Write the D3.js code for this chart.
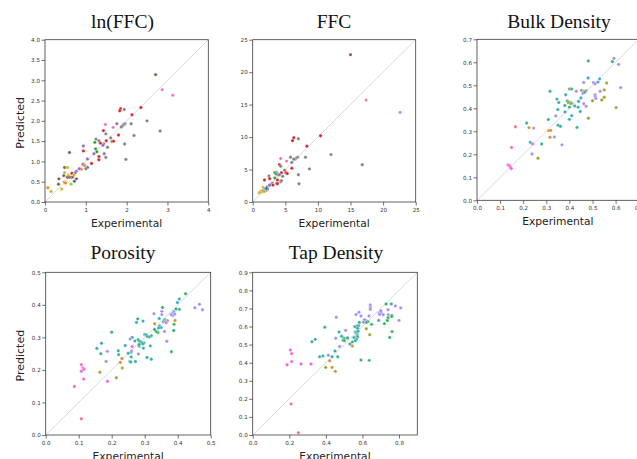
<!DOCTYPE html>
<html><head><meta charset="utf-8">
<script src="https://cdn.jsdelivr.net/npm/d3@7"></script>
<style>
body{margin:0;background:#fff;}
svg{display:block;}
.tick text{font-family:"DejaVu Sans",sans-serif;font-size:5.6px;fill:#333;}
.tick line{stroke:#333;stroke-width:0.7;}
.domain{display:none;}
</style></head><body>
<svg id="c" width="637" height="459"></svg>
<script>
// ---- palettes ----
const tab10 = d3.schemeCategory10;
const husl8 = ['#f77189','#ce9032','#97a431','#32b166','#36ada4','#39a7d0','#a48cf4','#f561dd'];

// ---- data: [experimental, predicted, group] ----
const lnffcPoints = [
[2.71,3.14,5],[2.87,2.77,6],[3.13,2.63,6],[1.85,2.30,3],[1.83,2.25,3],[1.94,2.28,7],[2.35,2.33,3],[2.13,2.15,3],
[2.50,2.00,7],[2.11,1.93,7],[1.96,1.93,7],[1.93,1.91,7],[1.90,1.88,7],[1.87,1.85,7],[1.76,1.93,7],[1.48,1.91,6],
[1.67,1.84,6],[1.43,1.76,3],[1.49,1.68,7],[2.82,1.75,7],[2.18,1.64,7],[1.80,1.65,3],[1.61,1.58,7],[1.25,1.55,7],
[1.32,1.51,7],[1.64,1.49,7],[1.68,1.50,3],[1.22,1.47,2],[1.50,1.51,3],[1.36,1.45,3],[1.44,1.43,4],[1.42,1.40,4],
[1.53,1.35,7],[1.95,1.43,7],[0.94,1.38,4],[1.24,1.31,2],[0.94,1.26,3],[1.27,1.24,2],[0.60,1.22,5],[1.20,1.19,4],
[1.45,1.19,7],[1.49,1.10,7],[1.32,1.12,3],[1.32,1.04,3],[1.98,1.05,7],[1.14,0.95,3],[1.04,1.06,4],[1.04,0.85,0],
[1.00,0.82,7],[0.93,0.93,4],[0.89,0.81,1],[0.97,0.90,1],[0.84,0.82,4],[0.77,0.76,4],[0.74,0.72,4],[0.72,0.51,0],
[0.48,0.85,5],[0.55,0.85,8],[0.48,0.72,8],[0.57,0.66,8],[0.46,0.65,5],[0.55,0.61,5],[0.60,0.61,5],[0.65,0.61,5],
[0.68,0.62,5],[0.34,0.57,5],[0.47,0.49,1],[0.50,0.47,1],[0.33,0.44,5],[0.64,0.44,8],[0.66,0.71,3],[0.71,0.67,8],
[0.77,0.57,5],[0.07,0.35,1],[0.15,0.26,8],[0.41,0.32,8]
];
const ffcPoints = [
[15.0,22.7,5],[17.4,15.7,6],[22.6,13.8,6],[10.4,10.2,3],[6.3,9.9,3],[6.1,9.45,3],[7.0,9.75,7],[8.3,8.6,3],
[12.0,7.3,7],[8.1,6.9,7],[6.9,6.9,7],[6.7,6.8,7],[6.5,6.6,7],[6.3,6.6,7],[5.8,6.9,7],[4.3,6.7,6],[5.2,6.3,6],
[6.0,6.1,7],[16.8,5.75,7],[4.1,5.75,3],[4.3,5.5,7],[8.7,5.1,7],[6.0,5.2,3],[4.9,4.9,7],[3.5,4.6,7],[3.7,4.5,7],
[4.4,4.5,3],[5.1,4.5,3],[5.3,4.4,3],[3.4,4.5,2],[3.6,4.3,2],[3.9,4.2,4],[4.1,4.2,4],[4.6,3.95,7],[7.0,4.2,7],
[2.5,4.0,4],[2.6,3.6,3],[3.4,3.7,2],[3.8,3.4,3],[4.3,3.1,7],[4.4,3.3,7],[7.1,2.8,7],[3.7,2.9,3],[3.8,2.8,3],
[1.8,3.4,3],[3.0,2.9,4],[2.8,2.7,4],[2.5,2.5,4],[2.2,2.3,4],[3.1,2.6,3],[2.6,2.6,4],[1.6,2.26,8],[1.7,1.9,8],
[1.85,2.0,5],[1.2,1.65,1],[1.0,1.4,1],[1.3,1.5,8],[1.5,1.65,5],[2.0,1.75,5],[1.9,1.9,4],[2.0,1.85,0],[2.3,2.0,7],
[1.4,1.6,8],[1.6,1.7,5],[1.75,1.6,8],[2.1,2.1,0],[1.1,1.5,8]
];
const bulkPoints = [
[0.593,0.617,6],[0.586,0.603,3],[0.613,0.591,6],[0.482,0.606,3],[0.622,0.49,6],[0.531,0.528,5],[0.524,0.514,5],
[0.481,0.532,5],[0.504,0.512,6],[0.511,0.507,6],[0.561,0.51,2],[0.462,0.512,6],[0.43,0.474,6],[0.40,0.484,2],
[0.41,0.484,4],[0.511,0.459,6],[0.512,0.451,6],[0.533,0.474,6],[0.514,0.443,6],[0.551,0.48,2],[0.452,0.478,2],
[0.472,0.477,2],[0.462,0.474,6],[0.458,0.465,6],[0.466,0.47,5],[0.316,0.474,5],[0.384,0.459,4],[0.346,0.44,4],
[0.354,0.425,4],[0.391,0.432,4],[0.403,0.426,4],[0.41,0.422,4],[0.406,0.421,2],[0.395,0.425,2],[0.38,0.412,4],
[0.40,0.405,4],[0.35,0.395,4],[0.438,0.405,4],[0.423,0.41,4],[0.50,0.433,2],[0.54,0.436,2],[0.551,0.448,2],
[0.472,0.409,6],[0.462,0.42,6],[0.602,0.403,2],[0.447,0.386,4],[0.381,0.384,4],[0.41,0.368,4],[0.341,0.367,6],
[0.309,0.351,4],[0.40,0.352,4],[0.482,0.357,2],[0.215,0.336,4],[0.351,0.326,4],[0.361,0.322,4],[0.433,0.317,4],
[0.166,0.32,0],[0.225,0.316,1],[0.245,0.314,6],[0.31,0.303,1],[0.319,0.304,1],[0.316,0.274,1],[0.335,0.275,6],
[0.231,0.252,4],[0.241,0.245,7],[0.28,0.245,4],[0.368,0.241,6],[0.15,0.23,7],[0.238,0.201,6],[0.264,0.183,2],
[0.134,0.154,7],[0.14,0.151,7],[0.144,0.145,7],[0.149,0.138,7],[0.45,0.445,5],[0.44,0.43,4]
];
const porosityPoints = [
[0.424,0.434,3],[0.405,0.418,5],[0.399,0.407,5],[0.466,0.402,6],[0.452,0.391,6],[0.475,0.385,6],[0.354,0.392,3],
[0.405,0.386,5],[0.395,0.387,3],[0.388,0.379,3],[0.385,0.375,6],[0.389,0.370,6],[0.385,0.367,6],[0.391,0.372,6],
[0.380,0.370,6],[0.328,0.373,6],[0.352,0.38,6],[0.352,0.37,6],[0.279,0.357,3],[0.275,0.346,4],[0.295,0.35,4],
[0.330,0.342,1],[0.369,0.351,1],[0.361,0.354,3],[0.357,0.348,3],[0.344,0.358,5],[0.362,0.349,6],[0.365,0.345,6],
[0.345,0.335,4],[0.350,0.330,5],[0.342,0.329,5],[0.340,0.315,3],[0.335,0.318,3],[0.330,0.324,3],[0.392,0.352,1],
[0.389,0.34,3],[0.388,0.321,3],[0.36,0.318,6],[0.20,0.316,3],[0.30,0.309,4],[0.304,0.308,4],[0.320,0.305,4],
[0.314,0.301,4],[0.308,0.303,4],[0.262,0.30,4],[0.256,0.295,6],[0.280,0.293,4],[0.284,0.288,4],[0.290,0.285,4],
[0.27,0.289,4],[0.367,0.288,6],[0.169,0.282,4],[0.298,0.283,4],[0.294,0.280,4],[0.317,0.274,4],[0.241,0.275,5],
[0.283,0.273,4],[0.283,0.278,3],[0.296,0.267,4],[0.262,0.272,7],[0.155,0.266,4],[0.187,0.257,6],[0.167,0.25,4],
[0.22,0.259,4],[0.221,0.247,4],[0.25,0.251,4],[0.259,0.254,4],[0.26,0.258,6],[0.281,0.249,6],[0.259,0.24,4],
[0.307,0.238,4],[0.32,0.233,4],[0.255,0.226,4],[0.258,0.224,4],[0.272,0.226,4],[0.381,0.256,3],[0.231,0.235,1],
[0.226,0.223,1],[0.183,0.226,6],[0.108,0.216,7],[0.113,0.206,7],[0.116,0.202,7],[0.108,0.196,7],[0.232,0.206,1],
[0.164,0.193,1],[0.214,0.176,2],[0.115,0.172,7],[0.187,0.165,7],[0.087,0.149,0],[0.108,0.05,0]
];
const tapPoints = [
[0.729,0.725,3],[0.758,0.725,5],[0.643,0.719,6],[0.643,0.705,6],[0.643,0.695,6],[0.78,0.714,6],[0.809,0.703,6],
[0.74,0.693,6],[0.692,0.676,6],[0.703,0.676,6],[0.714,0.665,6],[0.694,0.667,6],[0.701,0.687,6],[0.742,0.665,6],
[0.581,0.679,6],[0.592,0.658,6],[0.565,0.666,6],[0.761,0.662,3],[0.76,0.655,3],[0.74,0.649,3],[0.736,0.633,3],
[0.457,0.651,6],[0.689,0.634,5],[0.636,0.658,6],[0.80,0.634,6],[0.618,0.633,4],[0.63,0.627,3],[0.621,0.623,3],
[0.65,0.612,3],[0.72,0.616,3],[0.61,0.638,6],[0.605,0.624,6],[0.583,0.623,3],[0.58,0.605,3],[0.572,0.603,4],
[0.559,0.599,4],[0.574,0.590,4],[0.621,0.588,2],[0.64,0.555,2],[0.762,0.572,3],[0.749,0.54,3],[0.394,0.596,4],
[0.508,0.579,6],[0.512,0.535,6],[0.472,0.57,4],[0.56,0.57,4],[0.565,0.566,4],[0.568,0.568,4],[0.576,0.574,4],
[0.572,0.555,4],[0.570,0.548,4],[0.574,0.542,4],[0.554,0.539,4],[0.567,0.53,4],[0.561,0.522,4],[0.486,0.546,4],
[0.499,0.535,4],[0.494,0.525,3],[0.501,0.522,3],[0.519,0.537,3],[0.342,0.529,4],[0.324,0.516,4],[0.454,0.535,6],
[0.532,0.503,4],[0.545,0.515,4],[0.545,0.492,1],[0.475,0.49,6],[0.45,0.465,4],[0.206,0.47,7],[0.213,0.45,7],
[0.366,0.433,4],[0.384,0.437,5],[0.414,0.441,6],[0.434,0.433,4],[0.465,0.433,4],[0.421,0.411,1],[0.592,0.415,4],
[0.637,0.413,4],[0.213,0.406,7],[0.264,0.393,7],[0.319,0.393,7],[0.188,0.389,7],[0.399,0.374,2],[0.434,0.374,1],
[0.452,0.352,1],[0.21,0.172,0],[0.25,0.013,0]
];

// ---- ticks ----
const lnffcTicksX = [0,1,2,3,4];
const lnffcTicksY = [0,0.5,1,1.5,2,2.5,3,3.5,4];
const ffcTicks = [0,5,10,15,20,25];
const bulkTicks = [0,0.1,0.2,0.3,0.4,0.5,0.6,0.7];
const porosityTicks = [0,0.1,0.2,0.3,0.4,0.5];
const tapTicksX = [0,0.2,0.4,0.6,0.8];
const tapTicksY = [0,0.1,0.2,0.3,0.4,0.5,0.6,0.7,0.8,0.9];

const svg = d3.select('#c');

const panels = [
 {title:'ln(FFC)', pts:lnffcPoints, pal:tab10, max:4, tx:lnffcTicksX, ty:lnffcTicksY, fx:d3.format('d'), fy:d3.format('.1f'),
  x0:45, x1:208.3, y0:39.7, y1:202, tcx:122.5, tby:28, ylab:true},
 {title:'FFC', pts:ffcPoints, pal:tab10, max:25, tx:ffcTicks, ty:ffcTicks, fx:d3.format('d'), fy:d3.format('d'),
  x0:252.7, x1:415.7, y0:39.7, y1:202, tcx:334, tby:28, ylab:false},
 {title:'Bulk Density', pts:bulkPoints, pal:husl8, max:0.7, tx:bulkTicks, ty:bulkTicks, fx:d3.format('.1f'), fy:d3.format('.1f'),
  x0:477, x1:638.7, y0:39.3, y1:200.3, tcx:559, tby:28, ylab:false},
 {title:'Porosity', pts:porosityPoints, pal:husl8, max:0.5, tx:porosityTicks, ty:porosityTicks, fx:d3.format('.1f'), fy:d3.format('.1f'),
  x0:45.7, x1:210.7, y0:272.3, y1:435, tcx:123, tby:259.3, ylab:true},
 {title:'Tap Density', pts:tapPoints, pal:husl8, max:0.9, tx:tapTicksX, ty:tapTicksY, fx:d3.format('.1f'), fy:d3.format('.1f'),
  x0:252.7, x1:417.3, y0:272.3, y1:435, tcx:336, tby:259.3, ylab:false}
];

panels.forEach(p => {
  const x = d3.scaleLinear().domain([0,p.max]).range([p.x0,p.x1]);
  const y = d3.scaleLinear().domain([0,p.max]).range([p.y1,p.y0]);
  const g = svg.append('g');

  g.append('g').attr('transform',`translate(0,${p.y1})`)
    .call(d3.axisBottom(x).tickValues(p.tx).tickFormat(p.fx).tickSize(3.5).tickPadding(2.5));
  g.append('g').attr('transform',`translate(${p.x0},0)`)
    .call(d3.axisLeft(y).tickValues(p.ty).tickFormat(p.fy).tickSize(3.5).tickPadding(1.5));

  g.append('line')
    .attr('x1',x(0)).attr('y1',y(0)).attr('x2',x(p.max)).attr('y2',y(p.max))
    .attr('stroke','#cfcfcf').attr('stroke-width',0.8);

  g.append('g').selectAll('circle').data(p.pts).join('circle')
    .attr('cx',d=>x(d[0])).attr('cy',d=>y(d[1])).attr('r',1.7)
    .attr('fill',d=>p.pal[d[2]]).attr('stroke','#fff').attr('stroke-width',0.35);

  g.append('rect').attr('x',p.x0).attr('y',p.y0)
    .attr('width',p.x1-p.x0).attr('height',p.y1-p.y0)
    .attr('fill','none').attr('stroke','#3a3a3a').attr('stroke-width',0.8);

  g.append('text').attr('x',p.tcx).attr('y',p.tby).attr('text-anchor','middle')
    .style('font-family','"Liberation Serif",serif').style('font-size','19.5px').attr('fill','#111')
    .text(p.title);

  g.append('text').attr('x',(p.x0+p.x1)/2).attr('y',p.y1+24.7).attr('text-anchor','middle')
    .style('font-family','"DejaVu Sans",sans-serif').style('font-size','10.7px').attr('fill','#222')
    .text('Experimental');

  if (p.ylab) {
    const cy = (p.y0+p.y1)/2 + 2;
    g.append('text').attr('transform',`translate(23.5,${cy}) rotate(-90)`).attr('text-anchor','middle')
      .style('font-family','"DejaVu Sans",sans-serif').style('font-size','11px').attr('fill','#222')
      .text('Predicted');
  }
});
</script>
</body></html>
